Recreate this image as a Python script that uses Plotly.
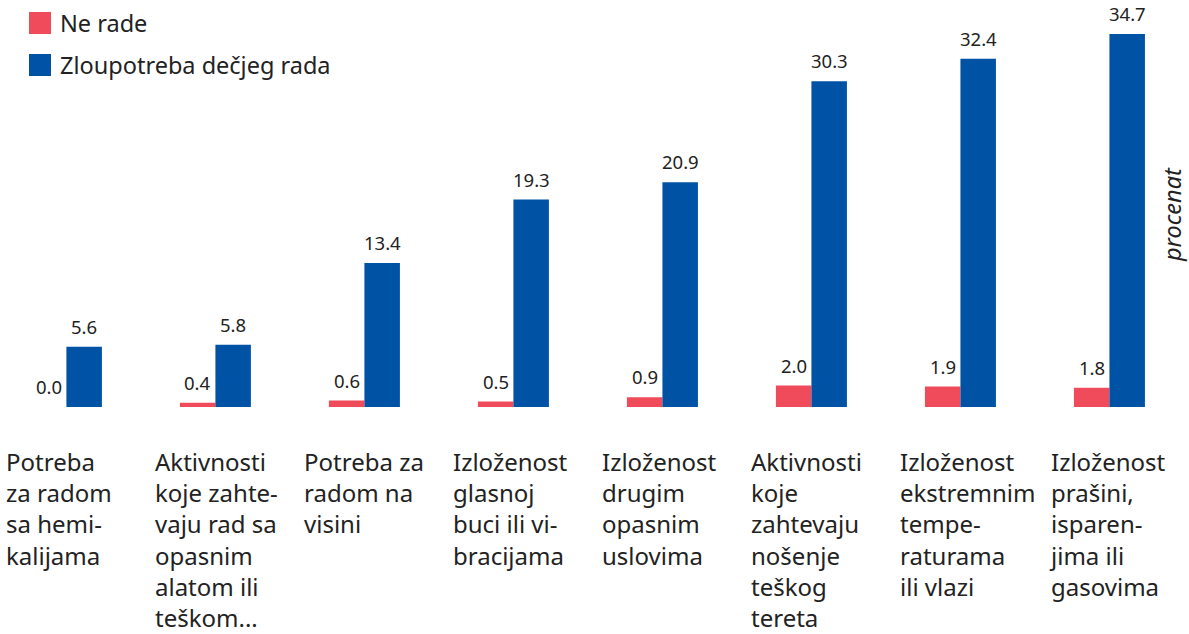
import plotly.graph_objects as go

categories = [
    "Potreba za radom sa hemikalijama",
    "Aktivnosti koje zahtevaju rad sa opasnim alatom ili teškom...",
    "Potreba za radom na visini",
    "Izloženost glasnoj buci ili vibracijama",
    "Izloženost drugim opasnim uslovima",
    "Aktivnosti koje zahtevaju nošenje teškog tereta",
    "Izloženost ekstremnim temperaturama ili vlazi",
    "Izloženost prašini, isparenjima ili gasovima",
]
tick_labels = [
    "Potreba<br>za radom<br>sa hemi-<br>kalijama",
    "Aktivnosti<br>koje zahte-<br>vaju rad sa<br>opasnim<br>alatom ili<br>teškom...",
    "Potreba za<br>radom na<br>visini",
    "Izloženost<br>glasnoj<br>buci ili vi-<br>bracijama",
    "Izloženost<br>drugim<br>opasnim<br>uslovima",
    "Aktivnosti<br>koje<br>zahtevaju<br>nošenje<br>teškog<br>tereta",
    "Izloženost<br>ekstremnim<br>tempe-<br>raturama<br>ili vlazi",
    "Izloženost<br>prašini,<br>isparen-<br>jima ili<br>gasovima",
]
series_names = ["Ne rade", "Zloupotreba dečjeg rada"]
ne_rade = [0.0, 0.4, 0.6, 0.5, 0.9, 2.0, 1.9, 1.8]
zloupotreba = [5.6, 5.8, 13.4, 19.3, 20.9, 30.3, 32.4, 34.7]
axis_title = "procenat"

RED = "#F04B5A"
BLUE = "#0052A5"
TEXT = "#222222"
FONT = "Noto Sans"

W, H = 1189, 634
PLOT_H = 407
BARGAP = 0.5235
X_RANGE = [-0.4456, 7.534]
Y_RANGE = [0, 37.86]
px_per_unit = W / (X_RANGE[1] - X_RANGE[0])
bar_px = (1 - BARGAP) / 2 * px_per_unit

fig = go.Figure()
fig.add_trace(go.Bar(x=categories, y=ne_rade, name=series_names[0],
                     marker=dict(color=RED, line=dict(width=0)), showlegend=False))
fig.add_trace(go.Bar(x=categories, y=zloupotreba, name=series_names[1],
                     marker=dict(color=BLUE, line=dict(width=0)), showlegend=False))

annotations = []
for i, cat in enumerate(categories):
    for vals, sh in ((ne_rade, -bar_px / 2), (zloupotreba, bar_px / 2)):
        annotations.append(dict(
            x=cat, y=vals[i], xref="x", yref="y", text=f"{vals[i]:.1f}",
            showarrow=False, xanchor="center", yanchor="bottom",
            xshift=sh, yshift=6, font=dict(family=FONT, size=18.5, color=TEXT)))
    annotations.append(dict(
        x=cat, y=0, xref="x", yref="paper", text=tick_labels[i],
        showarrow=False, xanchor="left", yanchor="top", align="left",
        xshift=-62, yshift=-36, font=dict(family=FONT, size=24, color=TEXT)))

# legend
shapes = []
for k, (name, col) in enumerate(zip(series_names, [RED, BLUE])):
    top = 12 + 42 * k
    shapes.append(dict(type="rect", xref="paper", yref="paper",
                       xsizemode="pixel", ysizemode="pixel",
                       xanchor=0, yanchor=1, x0=29, x1=51, y0=-top, y1=-(top + 22),
                       fillcolor=col, line=dict(width=0)))
    annotations.append(dict(x=0, y=1, xref="paper", yref="paper", text=name,
                            showarrow=False, xanchor="left", yanchor="middle",
                            xshift=58, yshift=-(top + 11),
                            font=dict(family=FONT, size=23.5, color=TEXT)))

annotations.append(dict(x=1, y=0.4717, xref="paper", yref="paper", text=f"<i>{axis_title}</i>",
                        showarrow=False, textangle=-90, xanchor="center", yanchor="middle",
                        xshift=-17, font=dict(family=FONT, size=23.5, color=TEXT)))

fig.update_layout(
    width=W, height=H,
    margin=dict(l=0, r=0, t=0, b=H - PLOT_H, pad=0),
    barmode="group", bargap=BARGAP, bargroupgap=0,
    plot_bgcolor="white", paper_bgcolor="white",
    xaxis=dict(range=X_RANGE, showticklabels=False, showgrid=False, zeroline=False,
               showline=False, ticks="", fixedrange=True),
    yaxis=dict(range=Y_RANGE, showticklabels=False, showgrid=False, zeroline=False,
               showline=False, ticks="", fixedrange=True),
    annotations=annotations, shapes=shapes,
    font=dict(family=FONT, color=TEXT),
)
fig.write_html("out.html", config={"displayModeBar": False},
               post_script="document.body.style.margin='0';document.body.style.overflow='hidden';")
